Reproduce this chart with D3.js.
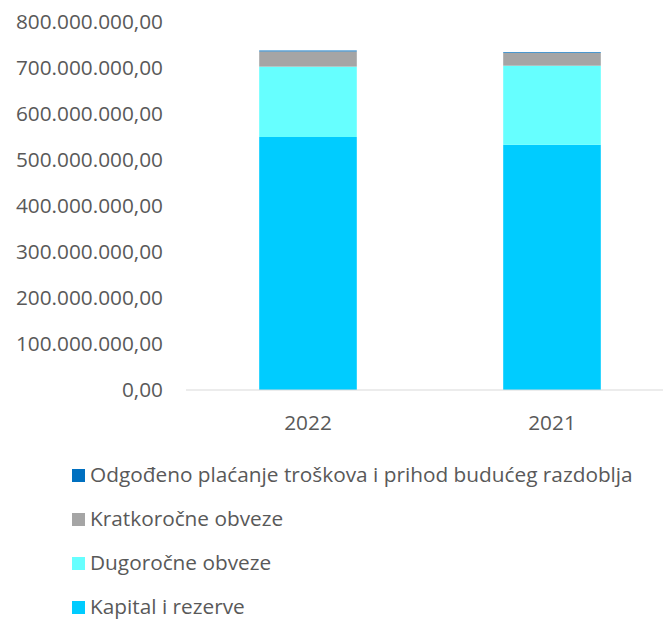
<!DOCTYPE html>
<html>
<head>
  <meta charset="utf-8">
  <script src="https://d3js.org/d3.v7.min.js"></script>
  <style>
    body { margin: 0; background: #fff; overflow: hidden; }
    text { font-family: "Open Sans", sans-serif; fill: #595959; }
  </style>
</head>
<body>
<svg id="chart" width="663" height="621"></svg>
<script>
  // data
  years = ['2022', '2021'];
  series = ['Kapital i rezerve', 'Dugoročne obveze', 'Kratkoročne obveze', 'Odgođeno plaćanje troškova i prihod budućeg razdoblja'];
  kapital = [550000000, 533000000];
  dugorocne = [153000000, 172000000];
  kratkorocne = [33000000, 28000000];
  odgodeno = [2000000, 1500000];
  colors = ['#00CCFF', '#66FFFF', '#A5A5A5', '#0070C0'];
  yTicks = [0, 100000000, 200000000, 300000000, 400000000, 500000000, 600000000, 700000000, 800000000];

  svg = d3.select('#chart');

  x = d3.scaleBand().domain(years).range([186, 674]).paddingInner(0.6).paddingOuter(0.3);
  y = d3.scaleLinear().domain([0, 800000000]).range([390, 22]);

  fmt = function(v) {
    return d3.format(',.2f')(v).replace(/,/g, 'X').replace('.', ',').replace(/X/g, '.');
  };

  // y labels (no axis line)
  svg.append('g').selectAll('text')
    .data(yTicks)
    .enter()
    .append('text')
    .attr('x', 163)
    .attr('y', d => y(d))
    .attr('dy', '0.35em')
    .attr('text-anchor', 'end')
    .style('font-size', '20.8px')
    .text(d => fmt(d));

  rows = years.map(function(yr, i) {
    return { year: yr, s0: kapital[i], s1: dugorocne[i], s2: kratkorocne[i], s3: odgodeno[i] };
  });
  stack = d3.stack().keys(['s0', 's1', 's2', 's3']);
  layers = stack(rows);

  svg.append('g').selectAll('g')
    .data(layers)
    .enter()
    .append('g')
    .attr('fill', (d, i) => colors[i])
    .selectAll('rect')
    .data(d => d)
    .enter()
    .append('rect')
    .attr('x', d => x(d.data.year))
    .attr('width', x.bandwidth())
    .attr('y', d => y(d[1]))
    .attr('height', d => y(d[0]) - y(d[1]));

  // baseline
  svg.append('line')
    .attr('x1', 186).attr('x2', 663)
    .attr('y1', y(0)).attr('y2', y(0))
    .attr('stroke', '#D9D9D9')
    .attr('stroke-width', 1);

  svg.append('g').selectAll('text')
    .data(years)
    .enter()
    .append('text')
    .attr('x', d => x(d) + x.bandwidth() / 2)
    .attr('y', 423)
    .attr('dy', '0.35em')
    .attr('text-anchor', 'middle')
    .style('font-size', '20.8px')
    .text(d => d);

  // legend, top item is the last series
  legendOrder = [3, 2, 1, 0];
  leg = svg.append('g').selectAll('g')
    .data(legendOrder)
    .enter()
    .append('g')
    .attr('transform', (d, i) => 'translate(72,' + (475 + i * 44) + ')');
  leg.append('rect')
    .attr('x', 0).attr('y', -6)
    .attr('width', 13).attr('height', 13)
    .attr('fill', d => colors[d]);
  leg.append('text')
    .attr('x', 18)
    .attr('y', 0)
    .attr('dy', '0.35em')
    .style('font-size', '20.8px')
    .text(d => series[d]);
</script>
</body>
</html>
